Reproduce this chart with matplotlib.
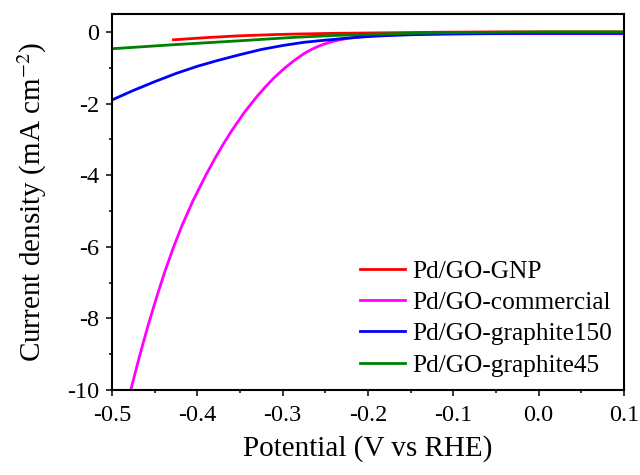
import numpy as np
import matplotlib
matplotlib.use("Agg")
import matplotlib.pyplot as plt
from matplotlib.ticker import MultipleLocator

plt.rcParams['font.family'] = ['Liberation Serif', 'DejaVu Serif']
plt.rcParams['mathtext.fontset'] = 'stix'
plt.rcParams['axes.unicode_minus'] = False

# LSV curves (potential in V vs RHE, current density in mA cm^-2)
v_gnp = [-0.428, -0.39, -0.352, -0.31, -0.2855, -0.24, -0.18, -0.12, -0.05, 0.0, 0.1]
j_gnp = [-0.22, -0.16, -0.11, -0.075, -0.06, -0.04, -0.025, -0.01, 0.0, 0.0, 0.0]

v_com = [-0.478, -0.468, -0.458, -0.448, -0.438, -0.428, -0.418, -0.405, -0.39,
         -0.38, -0.37, -0.36, -0.345, -0.33, -0.32, -0.31, -0.30, -0.295,
         -0.2855, -0.274, -0.265, -0.255, -0.245, -0.235, -0.225, -0.215, -0.205,
         -0.195, -0.18, -0.16, -0.14, -0.12, -0.10, -0.05, 0.0, 0.05, 0.1]
j_com = [-10.0, -9.08, -8.22, -7.43, -6.69, -6.02, -5.41, -4.71, -4.00,
         -3.56, -3.15, -2.77, -2.25, -1.80, -1.53, -1.28, -1.06, -0.96,
         -0.78, -0.59, -0.475, -0.37, -0.29, -0.23, -0.185, -0.15, -0.124,
         -0.106, -0.09, -0.075, -0.065, -0.06, -0.055, -0.05, -0.05, -0.05, -0.05]

v_g150 = [-0.5, -0.475, -0.45, -0.425, -0.40, -0.375, -0.35, -0.325, -0.30,
          -0.275, -0.25, -0.225, -0.20, -0.175, -0.15, -0.125, -0.10, -0.05, 0.0, 0.1]
j_g150 = [-1.90, -1.635, -1.39, -1.16, -0.96, -0.79, -0.635, -0.49, -0.38,
          -0.29, -0.23, -0.175, -0.13, -0.10, -0.08, -0.065, -0.055, -0.045, -0.04, -0.04]

v_g45 = [-0.5, -0.43, -0.352, -0.2855, -0.24, -0.196, -0.15, -0.10, -0.05, 0.0, 0.1]
j_g45 = [-0.47, -0.36, -0.25, -0.15, -0.10, -0.065, -0.04, -0.02, -0.01, 0.0, 0.0]

labels = ['Pd/GO-GNP', 'Pd/GO-commercial', 'Pd/GO-graphite150', 'Pd/GO-graphite45']
colors = ['#ff0000', '#ff00ff', '#0000ff', '#008000']

fig = plt.figure(figsize=(6.4, 4.75), dpi=100)
ax = fig.add_axes([0.175, 0.179, 0.800, 0.7915])

series = [(v_gnp, j_gnp), (v_com, j_com), (v_g150, j_g150), (v_g45, j_g45)]
for (v, j), lab, c in zip(series, labels, colors):
    ax.plot(v, j, color=c, lw=2, label=lab)

ax.set_xlim(-0.5, 0.1)
ax.set_ylim(-10, 0.5)
ticks = np.round(np.arange(-0.5, 0.11, 0.1), 1)
ax.set_xticks(ticks)
ax.set_xticklabels(['%.1f' % t if t != 0 else '0.0' for t in ticks])
ax.xaxis.set_minor_locator(MultipleLocator(0.05))
ax.yaxis.set_major_locator(MultipleLocator(2))
ax.yaxis.set_minor_locator(MultipleLocator(1))
ax.tick_params(which='major', direction='out', length=4, width=1.1, labelsize=17.5)
ax.tick_params(which='minor', direction='out', length=2.5, width=1.1)
ax.tick_params(axis='x', which='major', pad=7)
ax.tick_params(axis='y', which='major', pad=5)
for s in ax.spines.values():
    s.set_linewidth(1.5)

ax.set_xlabel('Potential (V vs RHE)', fontsize=21, labelpad=6)
ax.set_ylabel('Current density (mA cm$^{-2}$)', fontsize=21, labelpad=13.5)

ax.legend(loc='lower left', bbox_to_anchor=(0.484, 0.035), frameon=False,
          fontsize=18.3, handlelength=1.77, handletextpad=0.28, labelspacing=0.34,
          borderpad=0, borderaxespad=0)

fig.savefig('out.png', dpi=100)
